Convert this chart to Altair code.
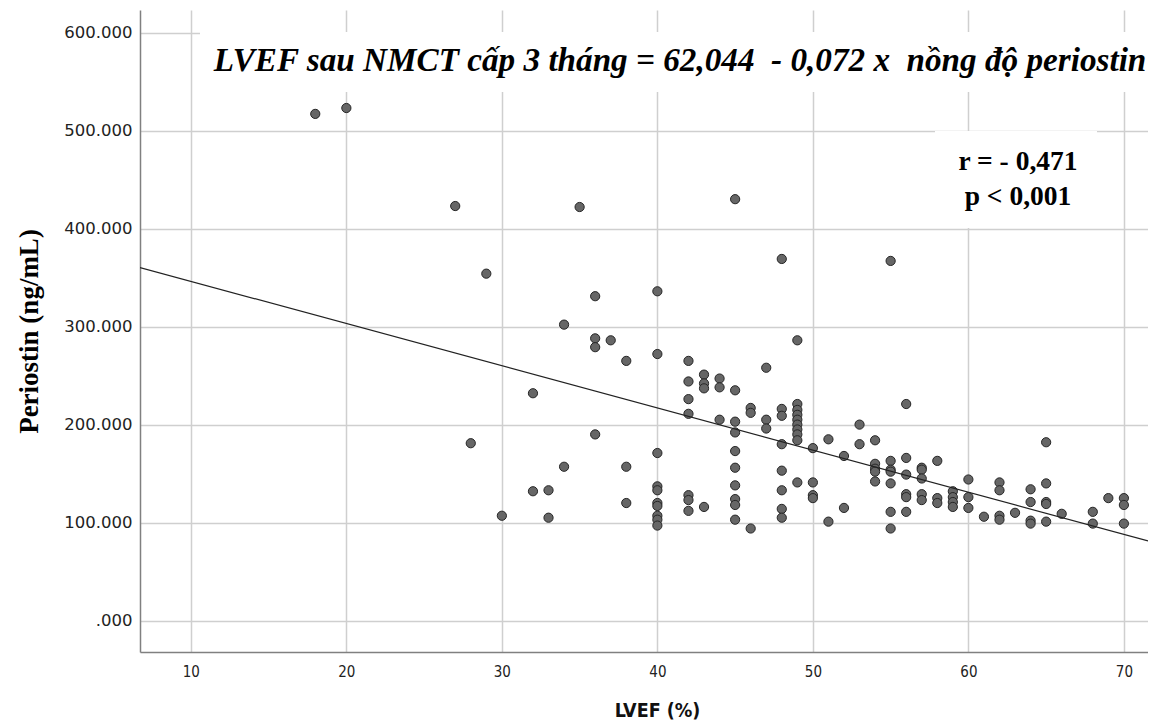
import altair as alt
import pandas as pd

# LVEF (%) values and periostin (ng/mL) values
lvef = (
    [18, 20, 27, 28, 29, 30, 32, 32, 33, 33, 34, 34, 35]
    + [36] * 4 + [37] + [38] * 3 + [40] * 10 + [42] * 7 + [43] * 4 + [44] * 3
    + [45] * 10 + [46] * 3 + [47] * 3 + [48] * 8 + [49] * 10 + [50] * 4
    + [51] * 2 + [52] * 2 + [53] * 2 + [54] * 5 + [55] * 7 + [56] * 6
    + [57] * 5 + [58] * 3 + [59] * 4 + [60] * 3 + [61] + [62] * 4 + [63]
    + [64] * 4 + [65] * 5 + [66] + [68] * 2 + [69] + [70] * 3
)
periostin = [
    517, 523, 423, 181, 354, 107, 232, 132, 133, 105, 302, 157, 422,
    331, 288, 279, 190,
    286,
    265, 157, 120,
    336, 272, 171, 137, 133, 120, 117, 107, 103, 97,
    265, 244, 226, 211, 128, 123, 112,
    251, 242, 237, 116,
    247, 238, 205,
    430, 235, 203, 192, 173, 156, 138, 124, 118, 103,
    217, 212, 94,
    258, 205, 196,
    369, 216, 209, 180, 153, 133, 114, 105,
    286, 221, 215, 210, 205, 200, 195, 190, 184, 141,
    176, 141, 128, 125,
    185, 101,
    168, 115,
    200, 180,
    184, 160, 155, 152, 142,
    367, 163, 154, 152, 140, 111, 94,
    221, 166, 149, 129, 126, 111,
    156, 154, 145, 129, 123,
    163, 125, 120,
    132, 126, 121, 116,
    144, 126, 115,
    106,
    141, 133, 107, 103,
    110,
    134, 121, 102, 99,
    182, 140, 121, 119, 101,
    109,
    111, 99,
    125,
    125, 118, 99,
]

x_ticks = [10, 20, 30, 40, 50, 60, 70]
y_ticks = [0, 100, 200, 300, 400, 500, 600]
x_domain = [6.73, 71.55]
y_domain = [-32, 623]

title_text = "LVEF sau NMCT cấp 3 tháng = 62,044\u00a0 - 0,072 x\u00a0 nồng độ periostin"
stat_r = "r = - 0,471"
stat_p = "p < 0,001"

df = pd.DataFrame({"lvef": lvef, "periostin": periostin})

W, H = 1008, 642

x_enc = alt.X(
    "lvef:Q",
    scale=alt.Scale(domain=x_domain, nice=False, zero=False),
    axis=alt.Axis(
        values=x_ticks, title="LVEF (%)", grid=True, ticks=False,
        labelFont="DejaVu Sans Condensed, DejaVu Sans", labelFontSize=15,
        labelColor="#222222", labelPadding=12,
        titleFont="DejaVu Sans Condensed, DejaVu Sans", titleFontSize=19.5,
        titleFontWeight="bold", titleColor="#111111", titlePadding=22,
        titleX=517,
        domainColor="#808080", domainWidth=1.5,
        gridColor="#cfcfcf", gridWidth=1.5,
    ),
)
y_enc = alt.Y(
    "periostin:Q",
    scale=alt.Scale(domain=y_domain, nice=False, zero=False),
    axis=alt.Axis(
        values=y_ticks, title="Periostin (ng/mL)", grid=True, ticks=False,
        labelExpr="datum.value == 0 ? '.000' : format(datum.value, '.3f')",
        labelFont="DejaVu Sans", labelFontSize=16.5, labelColor="#222222",
        labelPadding=8, titleFont="Liberation Serif", titleFontSize=27,
        titleFontWeight="bold", titleColor="#000000", titlePadding=20,
        domainColor="#808080", domainWidth=1.5,
        gridColor="#cfcfcf", gridWidth=1.5,
    ),
)

base = alt.Chart(df)

points = base.mark_point(
    shape="circle", filled=True, size=85, fill="#666666",
    stroke="#262626", strokeWidth=1, opacity=1,
).encode(x=x_enc, y=y_enc)

fit = base.transform_regression(
    "lvef", "periostin", extent=x_domain
).mark_line(color="#222222", strokeWidth=1.2, clip=True).encode(
    x=alt.X("lvef:Q"), y=alt.Y("periostin:Q")
)

one = pd.DataFrame({"k": [0]})

title_box = alt.Chart(one).mark_rect(fill="white").encode(
    x=alt.value(60), x2=alt.value(1008), y=alt.value(22), y2=alt.value(82)
)
title_mark = alt.Chart(one).mark_text(
    text=title_text,
    font="Liberation Serif", fontSize=33.2, fontStyle="italic", fontWeight="bold",
    color="#000000", align="center", baseline="middle",
).encode(x=alt.value(540), y=alt.value(51))

stat_box = alt.Chart(one).mark_rect(fill="white").encode(
    x=alt.value(795), x2=alt.value(957), y=alt.value(121), y2=alt.value(218)
)
stat_r_mark = alt.Chart(one).mark_text(
    text=stat_r, font="Liberation Serif", fontSize=27.5, fontWeight="bold",
    color="#000000", align="center", baseline="middle",
).encode(x=alt.value(878), y=alt.value(152))
stat_p_mark = alt.Chart(one).mark_text(
    text=stat_p, font="Liberation Serif", fontSize=27.5, fontWeight="bold",
    color="#000000", align="center", baseline="middle",
).encode(x=alt.value(878), y=alt.value(187))

chart = alt.layer(
    points, fit, title_box, title_mark, stat_box, stat_r_mark, stat_p_mark
).properties(
    width=W, height=H,
    autosize=alt.AutoSizeParams(type="none"),
    padding={"left": 132, "top": 2, "right": 0, "bottom": 70},
    background="white",
).configure_view(stroke=None)

chart.save("out.html", embed_options={"renderer": "svg", "actions": False})
